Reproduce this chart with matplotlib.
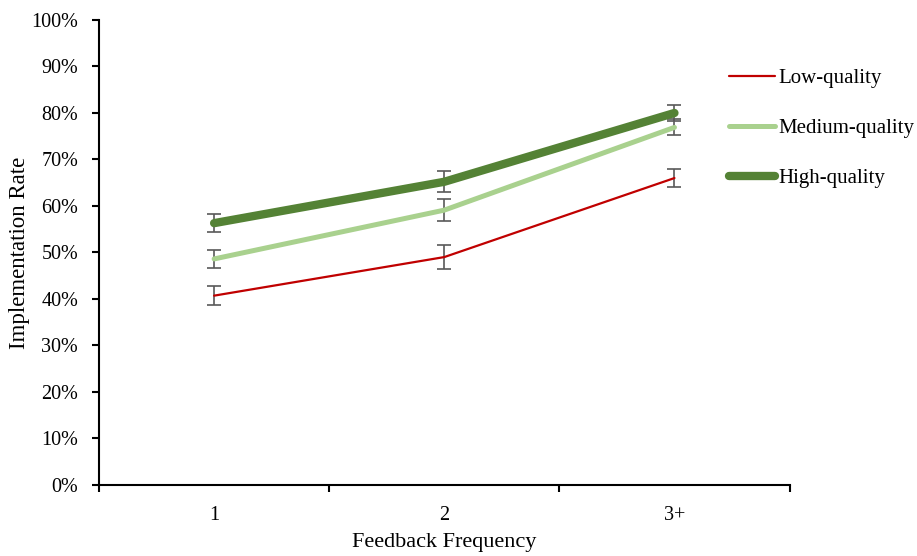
import matplotlib.pyplot as plt
from matplotlib.ticker import PercentFormatter

plt.rcParams['font.family'] = ['Liberation Serif', 'DejaVu Serif']

# data (percent)
categories = ['1', '2', '3+']
low = [40.7, 49.0, 66.0]
low_err = [2.0, 2.5, 2.0]
medium = [48.6, 59.1, 76.9]
medium_err = [2.0, 2.4, 1.7]
high = [56.3, 65.2, 80.0]
high_err = [1.9, 2.3, 1.8]

fig = plt.figure(figsize=(9.17, 5.56), dpi=100)
ax = fig.add_axes([0.108, 0.128, 0.753, 0.836])

x = range(len(categories))
series = [
    ('Low-quality', low, low_err, '#C00000', 1.6),
    ('Medium-quality', medium, medium_err, '#A9D18E', 3.6),
    ('High-quality', high, high_err, '#548235', 6.0),
]
for label, vals, errs, color, lw in series:
    ax.errorbar(x, vals, yerr=errs, fmt='none', ecolor='#595959',
                elinewidth=1.2, capsize=5, capthick=1.2, zorder=2)
    ax.plot(x, vals, color=color, linewidth=lw, label=label,
            solid_capstyle='round', zorder=3)

ax.set_xlim(-0.5, 2.5)
ax.set_ylim(0, 100)
ax.set_yticks(range(0, 101, 10))
ax.yaxis.set_major_formatter(PercentFormatter(decimals=0))
ax.set_xticks([-0.5, 0.5, 1.5, 2.5])
ax.set_xticklabels([])
ax.set_xticks(list(x), minor=True)
ax.set_xticklabels(categories, minor=True)
ax.tick_params(axis='x', which='major', length=5, width=1.5, direction='out')
ax.tick_params(axis='x', which='minor', length=0, pad=15, labelsize=14.5)
ax.tick_params(axis='y', length=5, width=1.5, direction='out', labelsize=14.5, pad=10)

for side in ['top', 'right']:
    ax.spines[side].set_visible(False)
for side in ['left', 'bottom']:
    ax.spines[side].set_linewidth(1.5)

ax.set_xlabel('Feedback Frequency', fontsize=16, labelpad=6)
ax.set_ylabel('Implementation Rate', fontsize=16.5, labelpad=1)

ax.legend(loc='upper left', bbox_to_anchor=(0.774, 0.91), bbox_transform=fig.transFigure,
          frameon=False, fontsize=15, labelspacing=1.45, handlelength=2.25,
          handletextpad=0.15)

fig.savefig('out.png', dpi=100)
